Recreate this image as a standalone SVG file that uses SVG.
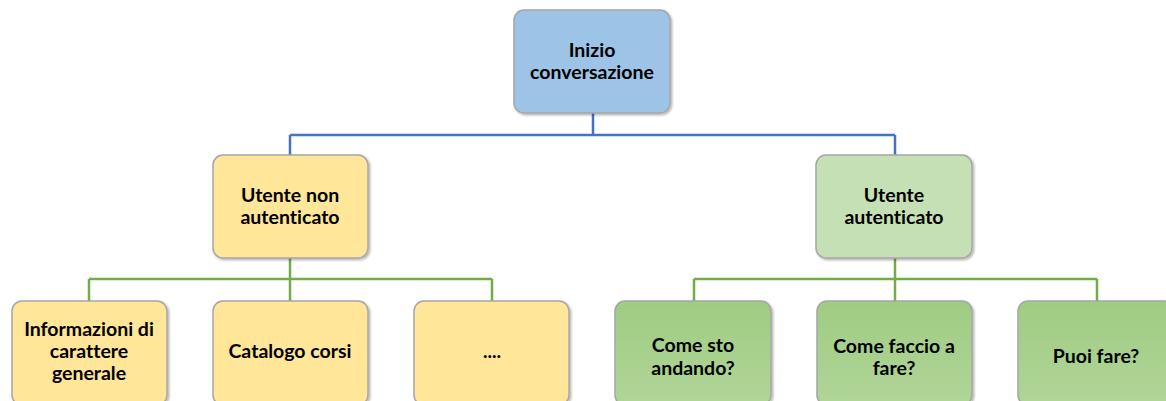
<svg xmlns="http://www.w3.org/2000/svg" width="1166" height="401" viewBox="0 0 1166 401">
<defs>
<filter id="sh" x="-10%" y="-10%" width="125%" height="125%">
<feDropShadow dx="1.5" dy="1.5" stdDeviation="1" flood-color="#000" flood-opacity="0.3"/>
</filter>
<linearGradient id="gg" x1="0" y1="0" x2="0" y2="1">
<stop offset="0" stop-color="#9fcc82"/>
<stop offset="1" stop-color="#b0d598"/>
</linearGradient>
</defs>
<style>
.box{stroke:#a6a6a6;stroke-width:1.5;filter:url(#sh)}
.blue{fill:#9dc3e6}
.yel{fill:#ffe699}
.lg{fill:#c5e0b4}
.dg{fill:url(#gg)}
.t{font-family:Lato,"Liberation Sans",sans-serif;font-weight:bold;font-size:19.5px;fill:#000;text-anchor:middle;font-variant-ligatures:none}
.d{font-family:Lato,"Liberation Sans",sans-serif;font-weight:bold;font-size:19px;fill:#000;text-anchor:middle}
.cb{stroke:#4472c4;stroke-width:2.5;fill:none}
.cg{stroke:#70ad47;stroke-width:2.5;fill:none}
</style>
<rect width="1166" height="401" fill="#fff"/>
<g id="connectors">
<path class="cb" d="M593 113V135M290 135H895M290 135V155M895 135V155"/>
<path class="cg" d="M290 258V279M89 279H492M89 279V301M290 279V301M492 279V301"/>
<path class="cg" d="M895 258V279M694 279H1097M694 279V301M895 279V301M1097 279V301"/>
</g>
<g id="n-inizio">
<rect class="box blue" x="514" y="10" width="156" height="103" rx="10"/>
<text class="t" x="592" y="57">Inizio</text>
<text class="t" x="592" y="79">conversazione</text>
</g>
<g id="n-nonauth">
<rect class="box yel" x="213" y="155" width="155" height="103" rx="10"/>
<text class="t" x="290" y="202">Utente non</text>
<text class="t" x="290" y="224">autenticato</text>
</g>
<g id="n-auth">
<rect class="box lg" x="816" y="155" width="156" height="103" rx="10"/>
<text class="t" x="894" y="202">Utente</text>
<text class="t" x="894" y="224">autenticato</text>
</g>
<g id="n-info">
<rect class="box yel" x="12" y="301" width="155" height="104" rx="10"/>
<text class="t" x="89" y="336">Informazioni di</text>
<text class="t" x="89" y="358">carattere</text>
<text class="t" x="89" y="380">generale</text>
</g>
<g id="n-catalogo">
<rect class="box yel" x="213" y="301" width="155" height="104" rx="10"/>
<text class="t" x="290" y="358">Catalogo corsi</text>
</g>
<g id="n-dots">
<rect class="box yel" x="414" y="301" width="155" height="104" rx="10"/>
<text class="d" x="492" y="358">....</text>
</g>
<g id="n-come-sto">
<rect class="box dg" x="615" y="301" width="156" height="104" rx="10"/>
<text class="t" x="693" y="352">Come sto</text>
<text class="t" x="693" y="375">andando?</text>
</g>
<g id="n-come-faccio">
<rect class="box dg" x="817" y="301" width="155" height="104" rx="10"/>
<text class="t" x="894" y="353">Come faccio a</text>
<text class="t" x="894" y="375">fare?</text>
</g>
<g id="n-puoi">
<rect class="box dg" x="1018" y="301" width="156" height="104" rx="10"/>
<text class="t" x="1096" y="363">Puoi fare?</text>
</g>
</svg>
